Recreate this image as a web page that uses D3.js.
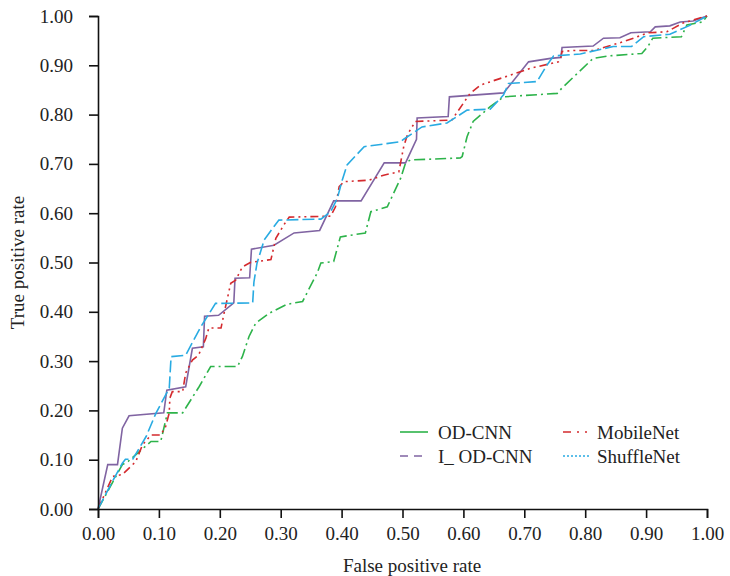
<!DOCTYPE html>
<html>
<head>
<meta charset="utf-8">
<script src="https://cdn.jsdelivr.net/npm/d3@7"></script>
<style>
  body { margin: 0; background: #fff; }
  svg text { font-family: "Liberation Serif", "Times New Roman", serif; fill: #222; }
</style>
</head>
<body>
<div id="roc"></div>
<script>
// ROC curves, [false positive rate, true positive rate]
const odCnn = [[0,0],[.040,.090],[.050,.097],[.087,.137],[.103,.137],[.114,.195],[.139,.195],[.166,.248],[.185,.289],[.229,.289],[.237,.309],[.248,.350],[.259,.377],[.281,.397],[.310,.415],[.336,.421],[.360,.479],[.366,.499],[.387,.502],[.398,.552],[.439,.560],[.448,.603],[.475,.613],[.497,.671],[.505,.702],[.513,.708],[.595,.712],[.598,.715],[.606,.755],[.616,.786],[.644,.816],[.666,.836],[.754,.843],[.762,.854],[.813,.914],[.838,.919],[.893,.924],[.903,.938],[.911,.955],[.958,.958],[.967,.982],[.993,.988],[1,1]];
const iOdCnn = [[0,0],[.016,.090],[.032,.090],[.040,.164],[.051,.189],[.108,.195],[.113,.241],[.144,.248],[.155,.326],[.173,.329],[.175,.391],[.198,.393],[.223,.418],[.225,.468],[.249,.469],[.252,.527],[.289,.535],[.322,.560],[.364,.565],[.387,.625],[.432,.625],[.470,.702],[.505,.702],[.523,.750],[.524,.793],[.575,.796],[.577,.836],[.666,.844],[.707,.907],[.743,.914],[.760,.916],[.762,.936],[.813,.939],[.830,.955],[.857,.956],[.875,.966],[.907,.968],[.915,.978],[.939,.980],[.956,.988],[.977,.990],[1,1]];
const mobileNet = [[0,0],[.024,.066],[.040,.070],[.062,.096],[.073,.130],[.087,.150],[.103,.150],[.111,.167],[.117,.195],[.118,.225],[.122,.238],[.139,.238],[.144,.276],[.155,.302],[.165,.312],[.177,.346],[.182,.367],[.202,.367],[.207,.397],[.218,.458],[.226,.464],[.237,.491],[.250,.500],[.284,.506],[.292,.549],[.305,.576],[.314,.592],[.382,.594],[.390,.613],[.396,.654],[.404,.664],[.445,.667],[.469,.677],[.494,.684],[.502,.735],[.508,.759],[.521,.786],[.581,.789],[.611,.843],[.628,.860],[.677,.880],[.710,.894],[.756,.907],[.759,.911],[.762,.928],[.781,.930],[.814,.930],[.863,.948],[.904,.966],[.934,.968],[.961,.986],[1,1]];
const shuffleNet = [[0,0],[.019,.045],[.040,.093],[.045,.101],[.057,.101],[.079,.147],[.095,.194],[.114,.238],[.117,.245],[.120,.309],[.144,.312],[.169,.370],[.193,.417],[.254,.418],[.256,.460],[.261,.498],[.273,.546],[.289,.573],[.297,.586],[.366,.588],[.382,.603],[.393,.630],[.401,.667],[.409,.698],[.437,.735],[.497,.745],[.502,.750],[.532,.775],[.573,.783],[.606,.809],[.644,.811],[.666,.840],[.674,.863],[.721,.867],[.737,.900],[.748,.919],[.792,.923],[.846,.938],[.876,.938],[.896,.958],[.939,.963],[.970,.980],[1,1]];

const seriesNames = ["OD-CNN", "I_ OD-CNN", "MobileNet", "ShuffleNet"];
const seriesData = [odCnn, iOdCnn, mobileNet, shuffleNet];
const seriesColors = ["#2db34a", "#8064a2", "#d42a2e", "#29abe2"];
const tickValues = [0, .1, .2, .3, .4, .5, .6, .7, .8, .9, 1];

// dash patterns used on the curves vs. the ones shown in the legend (they differ in the original)
const curveDash = ["11,4,2,4", null, "8,4,2,4,2,4", "12,4"];
const legendDash = [null, "8,6", "8,6,2,6,2,6", "2,2"];

const W = 730, H = 576;
const svg = d3.select("#roc").append("svg")
    .attr("width", W)
    .attr("height", H);

const x = d3.scaleLinear().domain([0, 1]).range([98, 707]);
const y = d3.scaleLinear().domain([0, 1]).range([509, 16]);

const line = d3.line()
    .x(d => x(d[0]))
    .y(d => y(d[1]));

seriesData.forEach((data, i) => {
    svg.append("path")
        .datum(data)
        .attr("fill", "none")
        .attr("stroke", seriesColors[i])
        .attr("stroke-width", 1.6)
        .attr("stroke-dasharray", curveDash[i])
        .attr("d", line);
});

const xAxis = svg.append("g")
    .attr("transform", `translate(0,${y(0)})`)
    .call(d3.axisBottom(x).tickValues(tickValues).tickFormat(d3.format(".2f")).tickSize(9).tickPadding(9));

const yAxis = svg.append("g")
    .attr("transform", `translate(${x(0)},0)`)
    .call(d3.axisLeft(y).tickValues(tickValues).tickFormat(d3.format(".2f")).tickSize(9).tickPadding(16));

[xAxis, yAxis].forEach(g => {
    g.selectAll("path, line").attr("stroke", "#111").attr("stroke-width", 1.6);
    g.selectAll("text").style("font-size", "19px").style("font-family", "Liberation Serif").attr("fill", "#222");
});

svg.append("text")
    .attr("x", 412)
    .attr("y", 572)
    .attr("text-anchor", "middle")
    .style("font-size", "19px")
    .text("False positive rate");

svg.append("text")
    .attr("transform", `translate(24,${(y(0) + y(1)) / 2}) rotate(-90)`)
    .attr("text-anchor", "middle")
    .style("font-size", "19px")
    .text("True positive rate");

// legend, two columns
const legendPos = [[400, 432], [400, 456], [563, 432], [563, 456]];
seriesNames.forEach((name, i) => {
    const [lx, ly] = legendPos[i];
    const g = svg.append("g").attr("transform", `translate(${lx},${ly})`);
    g.append("line")
        .attr("x1", 0).attr("x2", 28)
        .attr("y1", 0).attr("y2", 0)
        .attr("stroke", seriesColors[i])
        .attr("stroke-width", 1.6)
        .attr("stroke-dasharray", legendDash[i]);
    g.append("text")
        .attr("x", i < 2 ? 38 : 34)
        .attr("y", 0)
        .attr("dy", "0.35em")
        .style("font-size", "19px")
        .text(name);
});
</script>
</body>
</html>
